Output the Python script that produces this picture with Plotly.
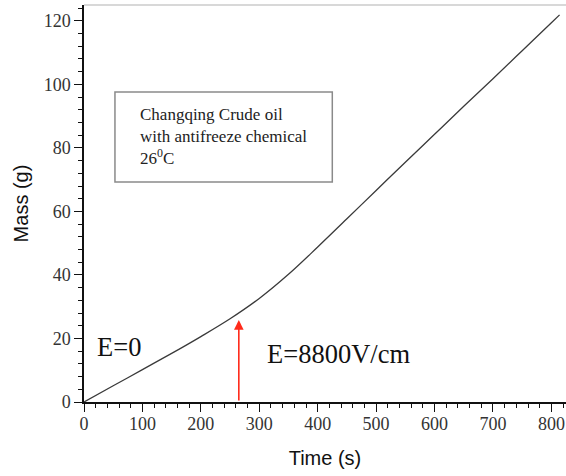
import plotly.graph_objects as go

# Data
time_s = [0, 50, 100, 150, 200, 250, 300, 350, 400, 450, 500, 550, 600, 650, 700, 750, 800, 814]
mass_g = [0, 5.1, 10.2, 15.3, 20.6, 26.2, 32.6, 40.2, 48.8, 57.7, 66.6, 75.5, 84.3, 93.1, 101.8, 110.6, 119.4, 121.9]

arrow_time = 265
arrow_mass = 25.8

x_ticks = [0, 100, 200, 300, 400, 500, 600, 700, 800]
y_ticks = [0, 20, 40, 60, 80, 100, 120]

SERIF = "Liberation Serif"
SANS = "Liberation Sans"

fig = go.Figure()
fig.add_trace(go.Scatter(x=time_s, y=mass_g, mode="lines",
                         line=dict(color="#3a3a3a", width=1.3, shape="spline", smoothing=1.0),
                         showlegend=False, hoverinfo="skip"))

# red arrow
fig.add_annotation(x=arrow_time, y=arrow_mass, ax=arrow_time, ay=0, axref="x", ayref="y",
                   xref="x", yref="y", text="", showarrow=True, arrowhead=2, arrowsize=1.2,
                   arrowwidth=1.6, arrowcolor="#ff2a1a")

# text box
fig.add_shape(type="rect", xref="x", yref="y", x0=53, x1=425, y0=69.3, y1=97.6,
              line=dict(color="#8a8a8a", width=1.5), fillcolor="rgba(0,0,0,0)")
fig.add_annotation(x=92, y=83.5, xref="x", yref="y", xanchor="left", yanchor="middle",
                   text="Changqing Crude oil<br>with antifreeze chemical<br>26<sup>0</sup>C",
                   showarrow=False, align="left",
                   font=dict(family=SERIF, size=17, color="#222"))

fig.add_annotation(x=19, y=17.3, xref="x", yref="y", xanchor="left", yanchor="middle",
                   text="E=0", showarrow=False, font=dict(family=SERIF, size=26.5, color="#111"))
fig.add_annotation(x=310, y=15.2, xref="x", yref="y", xanchor="left", yanchor="middle",
                   text="E=8800V/cm", showarrow=False, font=dict(family=SERIF, size=26.5, color="#111"))

# top light border
fig.add_shape(type="line", xref="paper", yref="paper", x0=0, x1=1, y0=1, y1=1,
              line=dict(color="#d8d8d8", width=2))

fig.update_xaxes(range=[0, 825], tickvals=x_ticks, ticks="outside", ticklen=8, tickwidth=1.3,
                 tickcolor="#111", showline=True, linecolor="#111", linewidth=1.5,
                 showgrid=False, zeroline=False, automargin=False, ticklabelstandoff=-3,
                 minor=dict(dtick=20, ticks="outside", ticklen=4, tickwidth=1.2, tickcolor="#111", showgrid=False),
                 tickfont=dict(family=SERIF, size=18, color="#333"),
                 title=dict(text="Time (s)", font=dict(family=SANS, size=20, color="#111"), standoff=18))
fig.update_yaxes(range=[0, 125], tickvals=y_ticks, ticks="outside", ticklen=8, tickwidth=1.3,
                 tickcolor="#111", showline=True, linecolor="#111", linewidth=1.5,
                 showgrid=False, zeroline=False, automargin=False,
                 minor=dict(dtick=4, ticks="outside", ticklen=4, tickwidth=1.2, tickcolor="#111", showgrid=False),
                 tickfont=dict(family=SERIF, size=18, color="#333"),
                 title=dict(text="Mass (g)", font=dict(family=SANS, size=20, color="#111"), standoff=10))

fig.update_layout(width=566, height=476, margin=dict(l=84, r=0, t=5, b=74),
                  plot_bgcolor="white", paper_bgcolor="white")

fig.write_html("out.html", config={"displayModeBar": False},
               post_script="document.body.style.margin='0px';")
